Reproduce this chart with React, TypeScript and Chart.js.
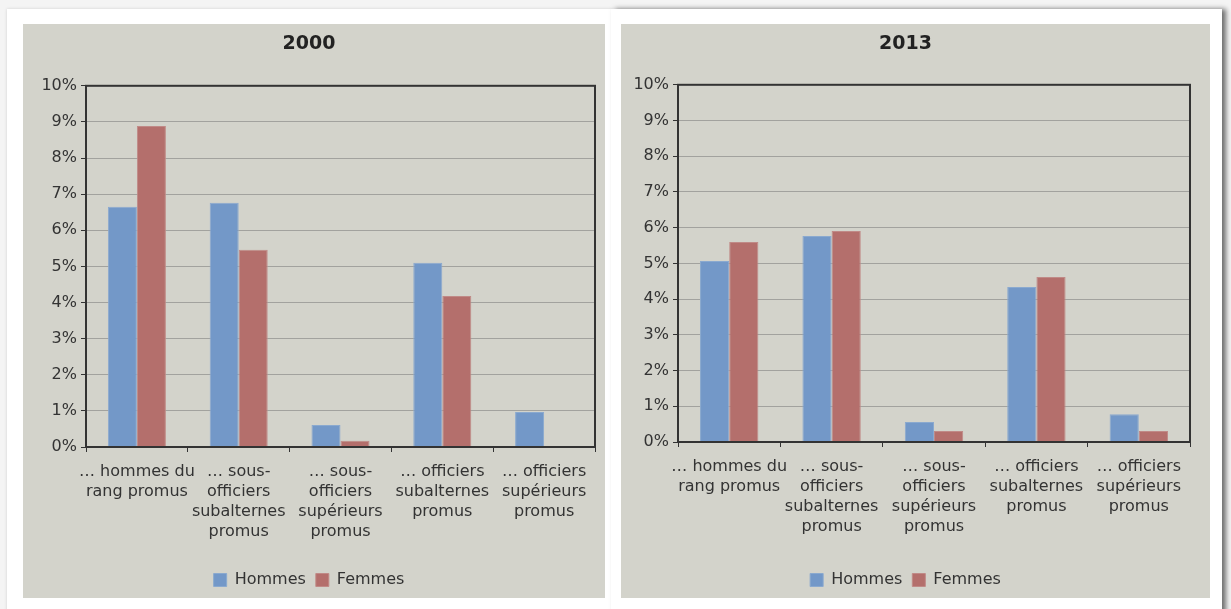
import React, { useEffect, useRef } from "react";
import { Chart, registerables } from "chart.js";

Chart.register(...registerables);

const categories: string[][] = [
  ["… hommes du", "rang promus"],
  ["… sous-", "officiers", "subalternes", "promus"],
  ["… sous-", "officiers", "supérieurs", "promus"],
  ["… officiers", "subalternes", "promus"],
  ["… officiers", "supérieurs", "promus"],
];
const seriesNames = ["Hommes", "Femmes"];
const hommes2000 = [6.65, 6.76, 0.61, 5.1, 0.97];
const femmes2000 = [8.89, 5.46, 0.17, 4.18, 0];
const hommes2013 = [5.07, 5.77, 0.56, 4.34, 0.78];
const femmes2013 = [5.6, 5.91, 0.31, 4.62, 0.31];
const yMax = 10;
const yStep = 1;

const FONT = "'DejaVu Sans', Verdana, sans-serif";
const BLUE = "#7398c8";
const RED = "#b46f6c";
const PANEL = "#d3d3cb";

const framePlugin = {
  id: "frame",
  afterDatasetsDraw(chart: any) {
    const { ctx, chartArea: a } = chart;
    ctx.save();
    ctx.strokeStyle = "#333";
    ctx.lineWidth = 2;
    ctx.strokeRect(a.left, a.top, a.right - a.left, a.bottom - a.top);
    ctx.restore();
  },
};

type PanelProps = {
  title: string;
  hommes: number[];
  femmes: number[];
  width: number;
  height: number;
  yWidth: number;
  xHeight: number;
  rightPad: number;
  titleBottom: number;
};

function BarPanel(p: PanelProps) {
  const ref = useRef<HTMLCanvasElement>(null);
  useEffect(() => {
    if (!ref.current) return;
    const chart = new Chart(ref.current, {
      type: "bar",
      data: {
        labels: categories,
        datasets: [
          {
            label: seriesNames[0],
            data: p.hommes,
            backgroundColor: BLUE,
            borderColor: "#8aa9cf",
            borderWidth: 1,
          },
          {
            label: seriesNames[1],
            data: p.femmes,
            backgroundColor: RED,
            borderColor: "#c08a87",
            borderWidth: 1,
          },
        ],
      },
      options: {
        responsive: false,
        animation: false,
        layout: { padding: { left: 0, right: p.rightPad, top: 0, bottom: 0 } },
        datasets: {
          bar: { categoryPercentage: 0.57, barPercentage: 1 },
        },
        plugins: {
          title: {
            display: true,
            text: p.title,
            color: "#222",
            font: { family: FONT, size: 19, weight: "bold" },
            padding: { top: 9, bottom: p.titleBottom },
          },
          legend: {
            position: "bottom",
            labels: {
              boxWidth: 13,
              boxHeight: 13,
              color: "#333",
              padding: 10,
              font: { family: FONT, size: 16 },
            },
          },
          tooltip: { enabled: false },
        },
        scales: {
          x: {
            grid: {
              display: true,
              drawOnChartArea: false,
              offset: true,
              tickLength: 5,
              tickColor: "#333",
              tickWidth: 1,
            },
            border: { color: "#333", width: 2 },
            ticks: {
              color: "#333",
              padding: 10,
              maxRotation: 0,
              autoSkip: false,
              font: { family: FONT, size: 16, lineHeight: 1.25 },
            },
            afterFit: (s: any) => {
              s.height = p.xHeight;
            },
          },
          y: {
            min: 0,
            max: yMax,
            ticks: {
              stepSize: yStep,
              color: "#333",
              padding: 4,
              font: { family: FONT, size: 16 },
              callback: (v: any) => v + "%",
            },
            grid: {
              color: "#a2a29e",
              lineWidth: 1,
              tickLength: 5,
              tickColor: "#333",
            },
            border: { color: "#333", width: 2 },
            afterFit: (s: any) => {
              s.width = p.yWidth;
            },
          },
        },
      },
      plugins: [framePlugin],
    });
    return () => chart.destroy();
  }, []);
  return (
    <canvas
      ref={ref}
      width={p.width}
      height={p.height}
      style={{ display: "block", width: p.width, height: p.height }}
    />
  );
}

export default function App() {
  return (
    <div
      style={{
        position: "absolute",
        left: 0,
        top: 0,
        width: 1231,
        height: 609,
        background: "#f4f4f4",
        overflow: "hidden",
      }}
    >
      <div
        style={{
          position: "absolute",
          left: 7,
          top: 9,
          width: 606,
          height: 610,
          background: "#fff",
          boxShadow: "0 0 3px rgba(0,0,0,0.15)",
        }}
      />
      <div
        style={{
          position: "absolute",
          left: 611,
          top: 9,
          width: 611,
          height: 610,
          background: "#fff",
          boxShadow: "4px 0 5px rgba(0,0,0,0.55)",
        }}
      />
      <div style={{ position: "absolute", left: 23, top: 24, background: PANEL }}>
        <BarPanel
          title="2000"
          hommes={hommes2000}
          femmes={femmes2000}
          width={582}
          height={574}
          yWidth={63}
          xHeight={115}
          rightPad={10}
          titleBottom={30}
        />
      </div>
      <div style={{ position: "absolute", left: 621, top: 24, background: PANEL }}>
        <BarPanel
          title="2013"
          hommes={hommes2013}
          femmes={femmes2013}
          width={589}
          height={574}
          yWidth={57}
          xHeight={120}
          rightPad={20}
          titleBottom={29}
        />
      </div>
    </div>
  );
}
